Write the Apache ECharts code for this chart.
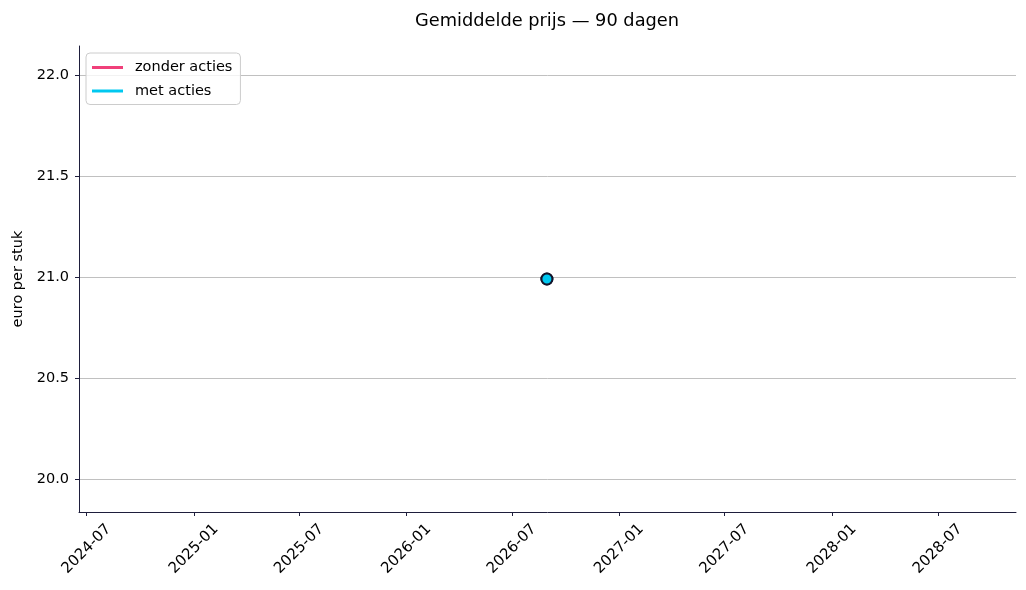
<!DOCTYPE html>
<html><head><meta charset="utf-8">
<script src="https://cdn.jsdelivr.net/npm/echarts@6/dist/echarts.min.js"></script>
<style>html,body{margin:0;padding:0;background:#fff}#c{width:1026px;height:590px}</style>
</head><body><div id="c"></div>
<script>
const dates = ['2026-08-30'];
const zonderActies = [20.99];
const metActies = [20.99];
const xTicks = ['2024-07-01','2025-01-01','2025-07-01','2026-01-01','2026-07-01','2027-01-01','2027-07-01','2028-01-01','2028-07-01'];
const yTicks = [20.0, 20.5, 21.0, 21.5, 22.0];
const xRange = ['2024-06-18', '2028-11-12'];
const yRange = [19.8355, 22.1445];

const F = 'DejaVu Sans';
const FS = 14.5;
const ts = s => new Date(s + 'T00:00:00Z').getTime();
const pad = n => (n < 10 ? '0' : '') + n;

const chart = echarts.init(document.getElementById('c'));
chart.setOption({
  animation: false,
  textStyle: { fontFamily: F },
  title: { text: 'Gemiddelde prijs — 90 dagen', left: 542, top: 7, textAlign: 'center',
    textStyle: { fontFamily: F, fontSize: 17.8, fontWeight: 'normal', color: '#000' } },
  grid: { left: 79, right: 10, top: 46, bottom: 78, outerBoundsMode: 'none', containLabel: false },
  legend: {
    left: 86, top: 53, orient: 'vertical', itemGap: 8.5,
    backgroundColor: 'rgba(255,255,255,0.8)', borderColor: '#cccccc', borderWidth: 1, borderRadius: 4,
    padding: [7, 8, 6, 6],
    icon: 'rect', itemWidth: 31, itemHeight: 3,
    itemStyle: { borderWidth: 0 },
    textStyle: { fontFamily: F, fontSize: FS, color: '#000', padding: [0, 0, 0, 7] },
    data: ['zonder acties', 'met acties']
  },
  xAxis: {
    type: 'value', min: ts(xRange[0]), max: ts(xRange[1]),
    axisLine: { lineStyle: { color: '#1e1e3c', width: 1 } },
    axisTick: { show: true, length: 4, lineStyle: { color: '#1e1e3c' }, customValues: xTicks.map(ts) },
    axisLabel: { rotate: 45, fontFamily: F, fontSize: 15, color: '#000', margin: 37,
      align: 'center', verticalAlign: 'middle',
      customValues: xTicks.map(ts),
      formatter: v => { const d = new Date(v); return d.getUTCFullYear() + '-' + pad(d.getUTCMonth() + 1); } },
    splitLine: { show: false }
  },
  yAxis: {
    type: 'value', min: yRange[0], max: yRange[1],
    name: 'euro per stuk', nameLocation: 'middle', nameGap: 53,
    nameTextStyle: { fontFamily: F, fontSize: FS, color: '#000' },
    axisLine: { show: true, lineStyle: { color: '#1e1e3c', width: 1 } },
    axisTick: { show: true, length: 4, lineStyle: { color: '#1e1e3c' }, customValues: yTicks },
    axisLabel: { fontFamily: F, fontSize: FS, color: '#000', margin: 10, customValues: yTicks,
      formatter: v => v.toFixed(1) },
    splitLine: { show: false }
  },
  series: [
    { name: 'zonder acties', type: 'line', color: '#f0407a',
      data: dates.map((d, i) => [ts(d), zonderActies[i]]),
      symbol: 'circle', symbolSize: 11, lineStyle: { width: 2.5 },
      itemStyle: { color: '#f0407a', borderColor: '#14142a', borderWidth: 2 },
      markLine: { silent: true, symbol: 'none', label: { show: false }, z: 0,
        lineStyle: { color: '#b0b0b0', width: 0.8, type: 'solid' },
        data: yTicks.map(v => ({ yAxis: v })) } },
    { name: 'met acties', type: 'line', color: '#00d4ff',
      data: dates.map((d, i) => [ts(d), metActies[i]]),
      symbol: 'circle', symbolSize: 11, lineStyle: { width: 2.5 }, z: 5,
      itemStyle: { color: '#00c8f0', borderColor: '#14142a', borderWidth: 2 } }
  ]
});
</script></body></html>
